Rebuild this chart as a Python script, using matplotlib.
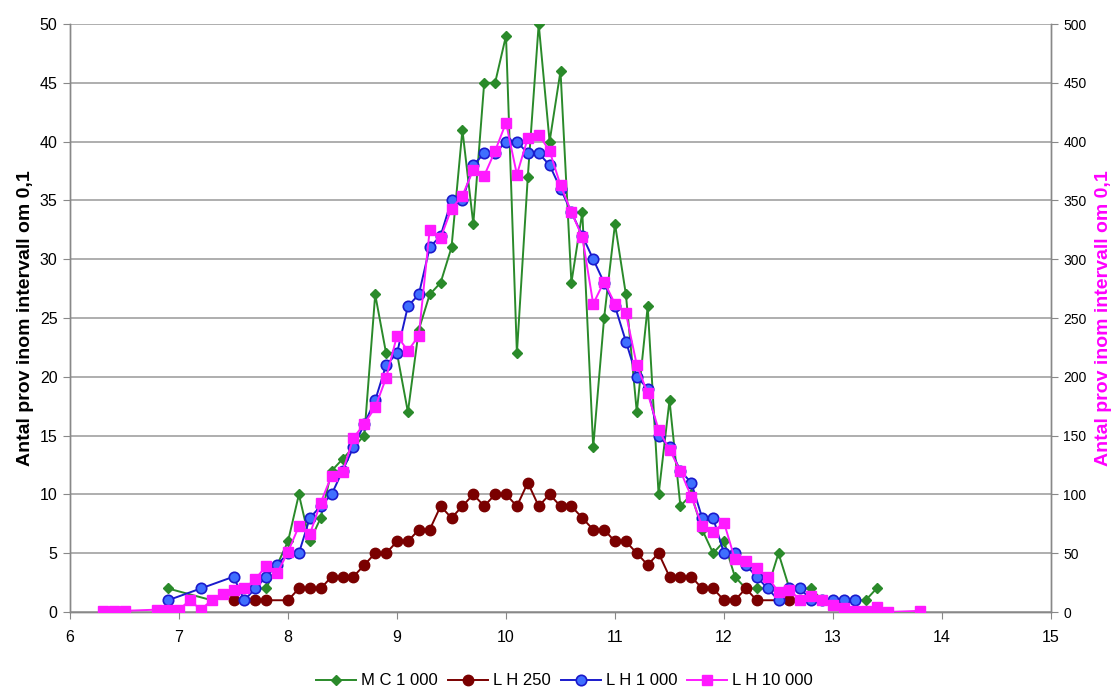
import matplotlib
matplotlib.use("Agg")
import matplotlib.pyplot as plt
from matplotlib.ticker import MultipleLocator

plt.rcParams['font.family'] = ['Liberation Sans', 'DejaVu Sans']

# ---- data ----
mc1000_x = [6.9, 7.3, 7.7, 7.8, 7.9, 8.0, 8.1, 8.2, 8.3, 8.4, 8.5, 8.6, 8.7, 8.8, 8.9, 9.0,
            9.1, 9.2, 9.3, 9.4, 9.5, 9.6, 9.7, 9.8, 9.9, 10.0, 10.1, 10.2, 10.3, 10.4, 10.5,
            10.6, 10.7, 10.8, 10.9, 11.0, 11.1, 11.2, 11.3, 11.4, 11.5, 11.6, 11.7, 11.8,
            11.9, 12.0, 12.1, 12.2, 12.3, 12.4, 12.5, 12.6, 12.7, 12.8, 12.9, 13.0, 13.1,
            13.2, 13.3, 13.4]
mc1000_y = [2, 1, 2, 2, 4, 6, 10, 6, 8, 12, 13, 14, 15, 27, 22, 22,
            17, 24, 27, 28, 31, 41, 33, 45, 45, 49, 22, 37, 50, 40, 46,
            28, 34, 14, 25, 33, 27, 17, 26, 10, 18, 9, 10, 7,
            5, 6, 3, 2, 2, 2, 5, 2, 2, 2, 1, 1, 1,
            1, 1, 2]

lh250_x = [7.5, 7.7, 7.8, 8.0, 8.1, 8.2, 8.3, 8.4, 8.5, 8.6, 8.7, 8.8, 8.9, 9.0, 9.1, 9.2,
           9.3, 9.4, 9.5, 9.6, 9.7, 9.8, 9.9, 10.0, 10.1, 10.2, 10.3, 10.4, 10.5, 10.6,
           10.7, 10.8, 10.9, 11.0, 11.1, 11.2, 11.3, 11.4, 11.5, 11.6, 11.7, 11.8, 11.9,
           12.0, 12.1, 12.2, 12.3, 12.6]
lh250_y = [1, 1, 1, 1, 2, 2, 2, 3, 3, 3, 4, 5, 5, 6, 6, 7,
           7, 9, 8, 9, 10, 9, 10, 10, 9, 11, 9, 10, 9, 9,
           8, 7, 7, 6, 6, 5, 4, 5, 3, 3, 3, 2, 2,
           1, 1, 2, 1, 1]

lh1000_x = [6.9, 7.2, 7.5, 7.6, 7.7, 7.8, 7.9, 8.0, 8.1, 8.2, 8.3, 8.4, 8.5, 8.6, 8.7, 8.8,
            8.9, 9.0, 9.1, 9.2, 9.3, 9.4, 9.5, 9.6, 9.7, 9.8, 9.9, 10.0, 10.1, 10.2, 10.3,
            10.4, 10.5, 10.6, 10.7, 10.8, 10.9, 11.0, 11.1, 11.2, 11.3, 11.4, 11.5, 11.6,
            11.7, 11.8, 11.9, 12.0, 12.1, 12.2, 12.3, 12.4, 12.5, 12.6, 12.7, 12.8, 12.9,
            13.0, 13.1, 13.2]
lh1000_y = [1, 2, 3, 1, 2, 3, 4, 5, 5, 8, 9, 10, 12, 14, 16, 18,
            21, 22, 26, 27, 31, 32, 35, 35, 38, 39, 39, 40, 40, 39, 39,
            38, 36, 34, 32, 30, 28, 26, 23, 20, 19, 15, 14, 12,
            11, 8, 8, 5, 5, 4, 3, 2, 1, 2, 2, 1, 1,
            1, 1, 1]

lh10000_x = [6.3, 6.4, 6.5, 6.8, 6.9, 7.0, 7.1, 7.2, 7.3, 7.4, 7.5, 7.6, 7.7, 7.8, 7.9, 8.0,
             8.1, 8.2, 8.3, 8.4, 8.5, 8.6, 8.7, 8.8, 8.9, 9.0, 9.1, 9.2, 9.3, 9.4, 9.5,
             9.6, 9.7, 9.8, 9.9, 10.0, 10.1, 10.2, 10.3, 10.4, 10.5, 10.6, 10.7, 10.8,
             10.9, 11.0, 11.1, 11.2, 11.3, 11.4, 11.5, 11.6, 11.7, 11.8, 11.9, 12.0, 12.1,
             12.2, 12.3, 12.4, 12.5, 12.6, 12.7, 12.8, 12.9, 13.0, 13.1, 13.2, 13.3, 13.4,
             13.5, 13.8]
lh10000_y = [1, 1, 1, 2, 2, 2, 10, 2, 10, 15, 19, 20, 28, 39, 33, 51,
             73, 66, 93, 116, 119, 148, 160, 174, 199, 235, 222, 235, 325, 318, 343,
             354, 376, 371, 392, 416, 372, 403, 406, 392, 363, 340, 319, 262,
             281, 262, 254, 210, 186, 155, 138, 120, 98, 73, 68, 76, 45,
             43, 37, 30, 17, 19, 10, 14, 10, 6, 3, 1, 1, 4,
             0, 1]

series_labels = ["M C 1 000", "L H 250", "L H 1 000", "L H 10 000"]
y_label = "Antal prov inom intervall om 0,1"

# ---- figure ----
W, H = 1118, 691
fig = plt.figure(figsize=(W / 100, H / 100), dpi=100)
left, right, bottom, top = 70 / W, 1051 / W, 1 - 612 / H, 1 - 24 / H
ax = fig.add_axes([left, bottom, right - left, top - bottom])
ax2 = ax.twinx()

green = "#2a8a2a"
maroon = "#7a0000"
blue_line = "#1a1acc"
blue_face = "#3f6fff"
pink = "#ff1aff"

l1, = ax.plot(mc1000_x, mc1000_y, color=green, lw=1.4, marker="D", ms=5,
              mfc=green, mec=green, zorder=3)
l2, = ax.plot(lh250_x, lh250_y, color=maroon, lw=1.4, marker="o", ms=7.5,
              mfc=maroon, mec=maroon, zorder=3)
l3, = ax.plot(lh1000_x, lh1000_y, color=blue_line, lw=1.4, marker="o", ms=7.5,
              mfc=blue_face, mec=blue_line, mew=1.2, zorder=4)
l4, = ax2.plot(lh10000_x, lh10000_y, color=pink, lw=1.4, marker="s", ms=7.5,
               mfc=pink, mec=pink, zorder=5)

ax.set_xlim(6, 15)
ax.set_ylim(0, 50)
ax2.set_ylim(0, 500)
ax.xaxis.set_major_locator(MultipleLocator(1))
ax.yaxis.set_major_locator(MultipleLocator(5))
ax2.yaxis.set_major_locator(MultipleLocator(50))

ax.grid(axis="y", color="#999999", lw=1.1)
ax.set_axisbelow(True)

for a in (ax, ax2):
    for s in a.spines.values():
        s.set_color("#888888")
        s.set_linewidth(1.0)
ax.spines["top"].set_visible(False)
ax2.spines["top"].set_visible(False)

ax.tick_params(axis="both", direction="out", length=5, color="#888888",
               labelsize=11.5, pad=4)
ax.tick_params(axis="x", pad=8)
ax2.tick_params(axis="y", direction="out", length=5, color="#888888",
                labelsize=10, pad=4)

ax.set_ylabel(y_label, fontsize=14, fontweight="bold", labelpad=4)
ax2.set_ylabel(y_label, fontsize=14, fontweight="bold", color="#ff00ff",
               labelpad=6)

fig.legend([l1, l2, l3, l4], series_labels, loc="lower center",
           bbox_to_anchor=(0.505, -0.018), ncol=4, frameon=False, fontsize=12,
           handlelength=2.4, handletextpad=0.3, columnspacing=0.6)

fig.savefig("out.png", dpi=100)
